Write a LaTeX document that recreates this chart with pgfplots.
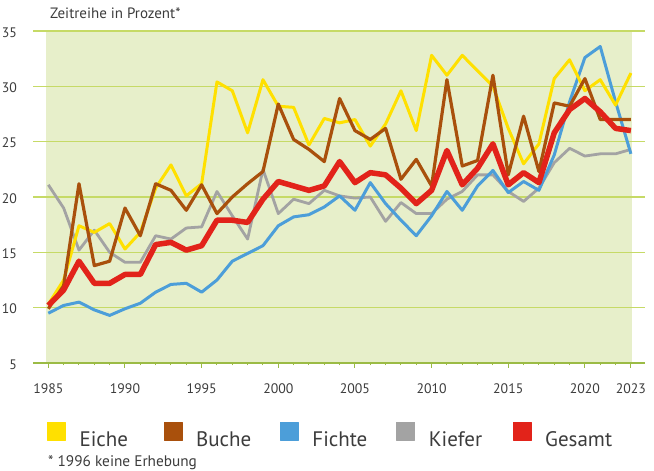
\documentclass[border=0pt]{standalone}
\usepackage{fontspec}
\setmainfont{PT Sans}
\usepackage{pgfplots}
\pgfplotsset{compat=1.18}
\usepackage{pgfplotstable}

\definecolor{ceiche}{HTML}{FFE000}
\definecolor{cbuche}{HTML}{A9500C}
\definecolor{cfichte}{HTML}{4C9ED9}
\definecolor{ckiefer}{HTML}{A3A3A3}
\definecolor{cgesamt}{HTML}{E2231A}
\definecolor{cbg}{HTML}{E7EFCA}
\definecolor{cgrid}{HTML}{C6DA66}
\definecolor{caxis}{HTML}{9BBB45}
\definecolor{ctext}{HTML}{3C3C3C}

% Jahr, Eiche, Buche, Fichte, Kiefer, Gesamt (1996 keine Erhebung)
\pgfplotstableread{
jahr eiche buche fichte kiefer gesamt
1985 10.3 9.9 9.5 21.1 10.2
1986 12.5 12.0 10.2 19.0 11.6
1987 17.4 21.2 10.5 15.2 14.2
1988 16.8 13.8 9.8 17.0 12.2
1989 17.6 14.2 9.3 15.0 12.2
1990 15.3 19.0 9.9 14.1 13.0
1991 16.8 16.5 10.4 14.1 13.0
1992 20.8 21.2 11.4 16.5 15.7
1993 22.9 20.6 12.1 16.2 15.9
1994 20.1 18.8 12.2 17.2 15.2
1995 21.2 21.1 11.4 17.3 15.6
1996 30.4 18.5 12.5 20.5 17.9
1997 29.6 20.0 14.2 18.3 17.9
1998 25.8 21.2 14.9 16.2 17.7
1999 30.6 22.3 15.6 22.5 19.8
2000 28.2 28.4 17.4 18.5 21.4
2001 28.1 25.2 18.2 19.8 21.0
2002 24.7 24.3 18.4 19.4 20.6
2003 27.1 23.2 19.1 20.6 21.0
2004 26.7 28.9 20.1 20.1 23.2
2005 27.0 26.0 18.8 19.9 21.3
2006 24.6 25.2 21.3 20.0 22.2
2007 26.6 26.2 19.4 17.8 22.0
2008 29.6 21.6 17.9 19.5 20.8
2009 26.0 23.4 16.5 18.5 19.4
2010 32.8 21.0 18.3 18.5 20.6
2011 31.0 30.6 20.5 19.8 24.2
2012 32.8 22.8 18.8 20.5 21.1
2013 31.4 23.3 21.0 22.0 22.6
2014 30.0 31.0 22.4 22.0 24.8
2015 26.2 22.0 20.4 20.5 21.1
2016 23.0 27.3 21.4 19.6 22.2
2017 24.8 22.3 20.6 20.8 21.3
2018 30.7 28.5 23.8 23.1 25.8
2019 32.4 28.2 28.6 24.4 27.9
2020 29.6 30.7 32.6 23.7 28.9
2021 30.6 27.0 33.6 23.9 27.7
2022 28.3 27.0 28.6 23.9 26.2
2023 31.2 27.0 23.9 24.3 26.0
}\datatable

\begin{document}
\begin{tikzpicture}[x=1pt,y=1pt]
\begin{axis}[
  at={(0,0)}, anchor=south west,
  scale only axis,
  width=612pt, height=332pt,
  set layers,
  xmin=1984.0, xmax=2023.92,
  ymin=5, ymax=35,
  axis x line*=bottom,
  axis y line*=left,
  x axis line style={color=caxis, line width=1.5pt},
  y axis line style={draw=none},
  xtick={1985,1990,1995,2000,2005,2010,2015,2020,2023},
  minor xtick={1985,...,2023},
  ytick={5,10,...,35},
  tick align=outside,
  major tick length=5pt,
  minor tick length=2.5pt,
  x tick style={color=caxis, line width=1pt},
  ytick style={draw=none},
  ymajorgrids=true,
  major grid style={color=cgrid, line width=1.3pt},
  /pgf/number format/assume math mode=true,
  /pgf/number format/1000 sep={},
  tick label style={font=\fontsize{13.8}{15}\selectfont, text=ctext},
  xticklabel style={anchor=north, inner sep=0pt, yshift=-15pt},
  yticklabel style={anchor=east, inner sep=0pt, xshift=-11pt, yshift=-1.5pt},
  legend columns=5,
  legend cell align=left,
  legend image code/.code={\fill[#1] (0pt,-0.5pt) rectangle (18pt,17.5pt); \path (32pt,0pt);},
  legend style={at={(0.0229,-0.1777)}, anchor=north west, draw=none, fill=none,
    inner sep=0pt, font=\fontsize{21}{23}\selectfont, text=ctext,
    nodes={inner sep=0pt, text width=84pt, align=left}},
  every axis plot/.append style={line join=round},
]
\begin{pgfonlayer}{axis background}
\fill[cbg] (axis cs:1984.85,5) rectangle (axis cs:2023.05,35);
\end{pgfonlayer}

\addlegendimage{color=ceiche}
\addlegendimage{color=cbuche}
\addlegendimage{color=cfichte}
\addlegendimage{color=ckiefer}
\addlegendimage{color=cgesamt}

\addplot[forget plot, color=ckiefer, line width=2.8pt] table[x=jahr, y=kiefer] {\datatable};
\addplot[forget plot, color=cfichte, line width=3pt] table[x=jahr, y=fichte] {\datatable};
\addplot[forget plot, color=ceiche, line width=3pt] table[x=jahr, y=eiche] {\datatable};
\addplot[forget plot, color=cbuche, line width=3.2pt] table[x=jahr, y=buche] {\datatable};
\addplot[forget plot, color=cgesamt, line width=5.5pt] table[x=jahr, y=gesamt] {\datatable};

\legend{Eiche, Buche, Fichte, Kiefer, Gesamt}
\end{axis}
\node[anchor=base west, inner sep=0pt, text=ctext, font=\fontsize{15}{16}\selectfont] at (17,344.5) {Zeitreihe in Prozent*};
\node[anchor=base west, inner sep=0pt, text=ctext, font=\fontsize{15.3}{17}\selectfont] at (15,-104) {* 1996 keine Erhebung};
\pgfresetboundingbox
\useasboundingbox (-33,-108) rectangle (621,363);
\end{tikzpicture}
\end{document}
